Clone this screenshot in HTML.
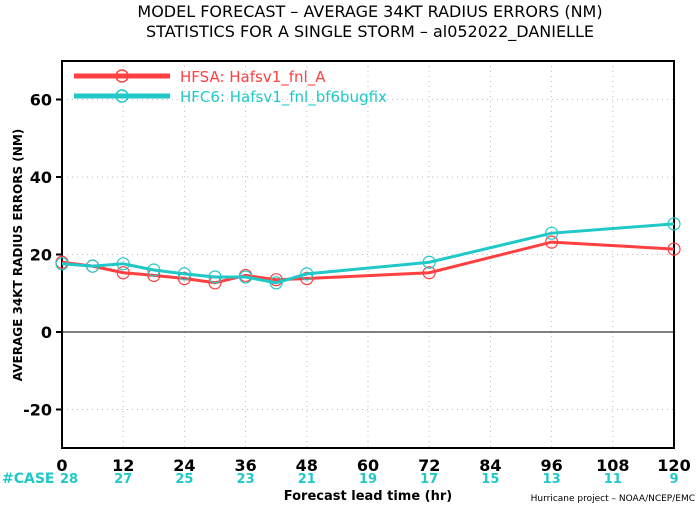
<!DOCTYPE html>
<html><head><meta charset="utf-8"><style>
body{margin:0;background:#fff}
svg{display:block;font-family:"DejaVu Sans","Liberation Sans",sans-serif}
</style></head><body>
<svg id="c" width="700" height="506">
<text x="370" y="17" text-anchor="middle" font-size="16">MODEL FORECAST – AVERAGE 34KT RADIUS ERRORS (NM)</text>
<text x="370" y="37" text-anchor="middle" font-size="16">STATISTICS FOR A SINGLE STORM – al052022_DANIELLE</text>
<g id="grid"></g>
<rect x="62" y="61" width="612" height="387" fill="none" stroke="#000" stroke-width="2"/>
<g id="axes"></g>
<g id="series"></g>
<text x="22" y="255" transform="rotate(-90 22 255)" text-anchor="middle" font-size="12" font-weight="bold">AVERAGE 34KT RADIUS ERRORS (NM)</text>
<text x="368" y="500" text-anchor="middle" font-size="13" font-weight="bold">Forecast lead time (hr)</text>
<text x="695" y="501" text-anchor="end" font-size="9">Hurricane project – NOAA/NCEP/EMC</text>
<text x="2" y="483" font-size="14" font-weight="bold" fill="#20c8c8">#CASE</text>
<g>
<line x1="74" y1="76" x2="170" y2="76" stroke="#ff4040" stroke-width="5"/>
<circle cx="122" cy="76" r="6" fill="none" stroke="#ff4040" stroke-width="1.5"/>
<text x="180" y="82" font-size="15" fill="#ff4040">HFSA: Hafsv1_fnl_A</text>
<line x1="74" y1="96" x2="170" y2="96" stroke="#20c8c8" stroke-width="5"/>
<circle cx="122" cy="96" r="6" fill="none" stroke="#20c8c8" stroke-width="1.5"/>
<text x="180" y="102" font-size="15" fill="#20c8c8">HFC6: Hafsv1_fnl_bf6bugfix</text>
</g>
</svg>
<script>
const hours=[0,6,12,18,24,30,36,42,48,72,96,120];
const hfsa=[18,17,15.3,14.6,13.8,12.7,14.6,13.5,13.8,15.3,23.2,21.4];
const hfc6=[17.6,17,17.6,16,15,14.2,14.2,12.7,15,18,25.5,27.9];
const xTicks=[0,12,24,36,48,60,72,84,96,108,120];
const caseCounts=[28,27,25,23,21,19,17,15,13,11,9];
const yTicks=[-20,0,20,40,60];
const NS="http://www.w3.org/2000/svg";
const X=v=>62+v/120*612;
const Y=v=>332-v*3.875;
function mk(t,a,p){const e=document.createElementNS(NS,t);for(const k in a)e.setAttribute(k,a[k]);p.appendChild(e);return e;}
const grid=document.getElementById('grid'),axes=document.getElementById('axes'),ser=document.getElementById('series');
xTicks.forEach((h,i)=>{
 if(h>0&&h<120){const l=mk('line',{x1:X(h),x2:X(h),y1:61,y2:448,stroke:'#bbb','stroke-dasharray':'1 4'},grid);
 
 }
 const t=mk('text',{x:X(h),y:471,'text-anchor':'middle','font-size':16,'font-weight':'bold'},axes);t.textContent=h;
 
 
 const c=mk('text',{x:X(h)+(i==0?7:0),y:483,'text-anchor':'middle','font-size':13,'font-weight':'bold',fill:'#20c8c8'},axes);c.textContent=caseCounts[i];
 
 
});
yTicks.forEach(v=>{
 if(v!==0){const l=mk('line',{x1:62,x2:674,y1:Y(v),y2:Y(v),stroke:'#bbb','stroke-dasharray':'1 4'},grid);
 
 }
 mk('line',{x1:56,x2:62,y1:Y(v),y2:Y(v),stroke:'#000','stroke-width':2},axes);
 const t=mk('text',{x:52,y:Y(v)+6,'text-anchor':'end','font-size':16,'font-weight':'bold'},axes);t.textContent=v;
 
 
});
const z=mk('line',{x1:62,x2:674,y1:Y(0),y2:Y(0),stroke:'#000','stroke-width':1},axes);


function draw(vals,col,name){
 const p=mk('polyline',{points:hours.map((h,i)=>X(h)+','+Y(vals[i])).join(' '),fill:'none',stroke:col,'stroke-width':3},ser);
 
 
 hours.forEach((h,i)=>{const c=mk('circle',{cx:X(h),cy:Y(vals[i]),r:6,fill:'none',stroke:col,'stroke-width':1.2},ser);
 
 });
}
draw(hfsa,'#ff4040','hfsa');
draw(hfc6,'#20c8c8','hfc6');
</script>
</body></html>
